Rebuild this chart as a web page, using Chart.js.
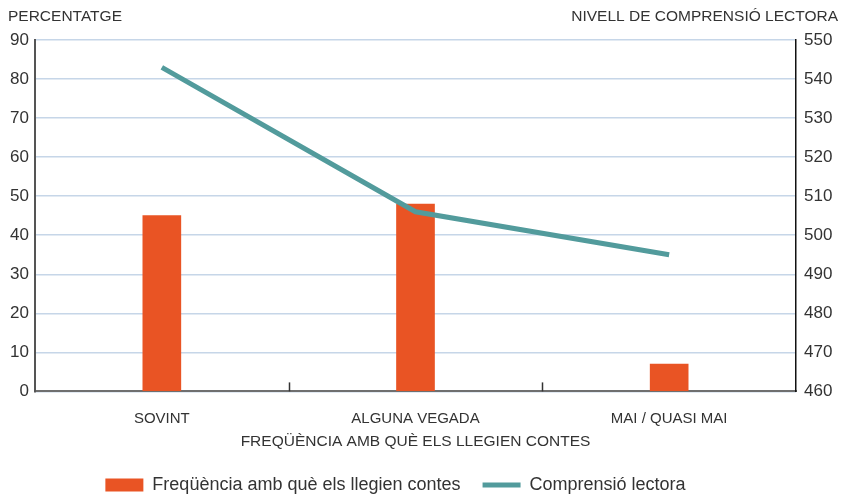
<!DOCTYPE html>
<html>
<head>
<meta charset="utf-8">
<script src="https://cdn.jsdelivr.net/npm/chart.js@4"></script>
<style>
  html, body { margin: 0; padding: 0; background: #fff; }
</style>
</head>
<body>
<canvas id="myChart" width="841" height="495"></canvas>
<script>
// Data
const categories = ['SOVINT', 'ALGUNA VEGADA', 'MAI / QUASI MAI'];
const frequencyValues = [45, 48, 7];          // percentatge (left axis)
const comprehensionValues = [543, 506, 495];  // nivell de comprensió lectora (right axis)
const percentTicks = [0, 10, 20, 30, 40, 50, 60, 70, 80, 90];
const levelTicks = [460, 470, 480, 490, 500, 510, 520, 530, 540, 550];

const FONT = '"Liberation Sans", Arial, sans-serif';
const TEXT = '#333333';

// Axis captions above the chart, the small ticks between categories,
// and a small nudge of the legend to the left like in the original
const extrasPlugin = {
    id: 'extras',
    afterLayout(chart) {
        chart.legend.left -= 25;
        chart.legend.right -= 25;
    },
    afterDraw(chart) {
        const ctx = chart.ctx;
        const area = chart.chartArea;
        const x = chart.scales.x;
        ctx.save();
        ctx.strokeStyle = '#333';
        ctx.lineWidth = 1.5;
        for (let i = 0; i < categories.length - 1; i++) {
            const px = Math.round((x.getPixelForValue(i) + x.getPixelForValue(i + 1)) / 2) + 0.5;
            ctx.beginPath();
            ctx.moveTo(px, area.bottom - 9);
            ctx.lineTo(px, area.bottom);
            ctx.stroke();
        }
        ctx.fillStyle = TEXT;
        ctx.font = '15.5px ' + FONT;
        ctx.textBaseline = 'middle';
        ctx.textAlign = 'left';
        ctx.fillText('PERCENTATGE', 8, 17);
        ctx.textAlign = 'right';
        ctx.fillText('NIVELL DE COMPRENSIÓ LECTORA', 838, 17);
        ctx.restore();
    }
};

const ctx = document.getElementById('myChart').getContext('2d');

new Chart(ctx, {
    data: {
        labels: categories,
        datasets: [
            {
                type: 'bar',
                label: 'Freqüència amb què els llegien contes',
                data: frequencyValues,
                backgroundColor: '#e95424',
                borderWidth: 0,
                barThickness: 38,
                yAxisID: 'y',
                order: 1
            },
            {
                type: 'line',
                label: 'Comprensió lectora',
                data: comprehensionValues,
                borderColor: '#529b9c',
                backgroundColor: '#529b9c',
                borderWidth: 5,
                pointRadius: 0,
                tension: 0,
                yAxisID: 'y1',
                order: 0
            }
        ]
    },
    options: {
        responsive: false,
        animation: false,
        layout: {
            padding: { top: 40, left: 0, right: 0, bottom: -9 }
        },
        scales: {
            x: {
                grid: { display: false, drawTicks: false },
                border: { display: true, color: '#6f6f6f', width: 2 },
                ticks: {
                    padding: 18,
                    color: TEXT,
                    font: { family: FONT, size: 15 }
                },
                title: {
                    display: true,
                    text: 'FREQÜÈNCIA AMB QUÈ ELS LLEGIEN CONTES',
                    color: TEXT,
                    font: { family: FONT, size: 15.5 },
                    padding: { top: -13, bottom: 3 }
                }
            },
            y: {
                position: 'left',
                min: percentTicks[0],
                max: percentTicks[percentTicks.length - 1],
                afterBuildTicks: axis => { axis.ticks = percentTicks.map(v => ({ value: v })); },
                afterFit: axis => { axis.width = 35; },
                grid: { color: '#c6d6e8', lineWidth: 1.5, drawTicks: false },
                border: { display: true, color: '#555', width: 2 },
                ticks: {
                    padding: 6,
                    color: TEXT,
                    font: { family: FONT, size: 17 }
                }
            },
            y1: {
                position: 'right',
                min: levelTicks[0],
                max: levelTicks[levelTicks.length - 1],
                afterBuildTicks: axis => { axis.ticks = levelTicks.map(v => ({ value: v })); },
                afterFit: axis => { axis.width = 45; },
                grid: { display: false, drawTicks: false },
                border: { display: true, color: '#111', width: 1.5 },
                ticks: {
                    padding: 8,
                    color: TEXT,
                    font: { family: FONT, size: 17 }
                }
            }
        },
        plugins: {
            legend: {
                position: 'bottom',
                labels: {
                    usePointStyle: true,
                    pointStyleWidth: 38,
                    boxHeight: 13,
                    padding: 22,
                    color: TEXT,
                    font: { family: FONT, size: 18 },
                    generateLabels: chart => {
                        const items = Chart.defaults.plugins.legend.labels.generateLabels(chart);
                        items.forEach(item => {
                            item.pointStyle = item.datasetIndex === 0 ? 'rect' : 'line';
                            if (item.datasetIndex === 0) item.lineWidth = 0;
                        });
                        return items;
                    },
                    sort: (a, b) => a.datasetIndex - b.datasetIndex
                }
            },
            tooltip: { enabled: false }
        }
    },
    plugins: [extrasPlugin]
});
</script>
</body>
</html>
